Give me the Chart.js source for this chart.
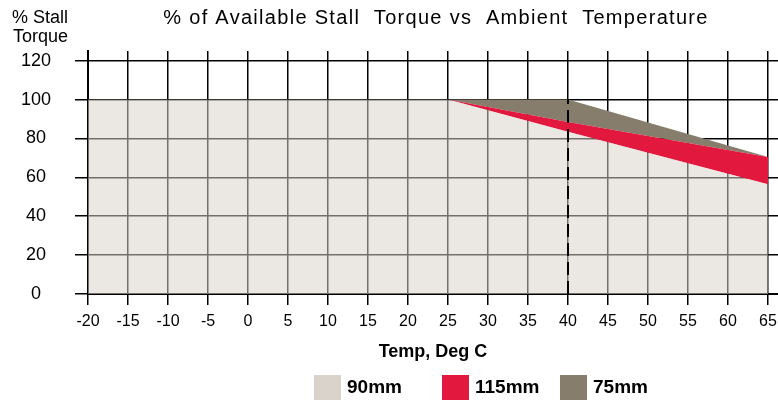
<!DOCTYPE html>
<html lang="en">

<head>
    <meta charset="UTF-8">
    <title>Stall Torque vs Ambient Temperature</title>
    <script src="https://cdn.jsdelivr.net/npm/chart.js@4/dist/chart.umd.min.js"></script>
    <style>
        body { margin: 0; background: #fff; }
    </style>
</head>

<body>
    <canvas id="myChart" width="778" height="400"></canvas>
    <script>
        // data
        const temps = [-20, 25, 40, 65];
        const torque90 = [100, 100, 83.5, 56.5];
        const torque115 = [100, 100, 88.5, 70.5];
        const torque75 = [100, 100, 100, 70.5];
        const markerTemps = [40, 40];
        const markerTorque = [0, 100];

        const xTicks = [-20, -15, -10, -5, 0, 5, 10, 15, 20, 25, 30, 35, 40, 45, 50, 55, 60, 65];
        const yTicks = [0, 20, 40, 60, 80, 100, 120];

        const seriesNames = ['90mm', '115mm', '75mm'];
        const seriesColors = ['#d9d3cc', '#e3183f', '#867d6c'];

        const NARROW = "'Liberation Sans Narrow', 'Liberation Sans', Arial, sans-serif";
        const SANS = "'Liberation Sans', Arial, sans-serif";

        const pts = (xs, ys) => xs.map((x, i) => ({ x: x, y: ys[i] }));

        // title, y axis caption and legend
        const decor = {
            id: 'decor',
            afterDraw(chart) {
                const ctx = chart.ctx;
                ctx.save();
                ctx.fillStyle = '#000';
                ctx.textBaseline = 'middle';

                ctx.font = '20px ' + SANS;
                ctx.letterSpacing = '1.3px';
                ctx.textAlign = 'center';
                ctx.fillText('% of Available Stall  Torque vs  Ambient  Temperature', 436, 18);
                ctx.letterSpacing = '0px';

                ctx.font = '18px ' + NARROW;
                ctx.textAlign = 'left';
                ctx.fillText('% Stall', 12, 18);
                ctx.fillText('Torque', 13, 37);

                const legendX = [314, 442, 560];
                ctx.font = 'bold 19px ' + SANS;
                seriesNames.forEach((name, i) => {
                    ctx.fillStyle = seriesColors[i];
                    ctx.fillRect(legendX[i], 375, 27, 25);
                    ctx.fillStyle = '#000';
                    ctx.fillText(name, legendX[i] + 33, 388);
                });
                ctx.restore();
            }
        };

        const ctx = document.getElementById('myChart').getContext('2d');
        const myChart = new Chart(ctx, {
            type: 'line',
            data: {
                datasets: [{
                    label: seriesNames[0],
                    data: pts(temps, torque90),
                    backgroundColor: 'rgba(217, 211, 204, 0.53)',
                    borderWidth: 0,
                    pointRadius: 0,
                    fill: 'origin'
                }, {
                    label: seriesNames[1],
                    data: pts(temps, torque115),
                    backgroundColor: seriesColors[1],
                    borderWidth: 0,
                    pointRadius: 0,
                    fill: '-1'
                }, {
                    label: seriesNames[2],
                    data: pts(temps, torque75),
                    backgroundColor: seriesColors[2],
                    borderWidth: 0,
                    pointRadius: 0,
                    fill: '-1'
                }, {
                    label: 'marker',
                    data: pts(markerTemps, markerTorque),
                    borderColor: '#000',
                    borderWidth: 2,
                    borderDash: [13, 6],
                    pointRadius: 0,
                    fill: false,
                    order: -1
                }]
            },
            plugins: [decor],
            options: {
                responsive: false,
                animation: false,
                devicePixelRatio: 1,
                layout: { padding: { top: 51, left: 0, right: 0, bottom: 0 } },
                plugins: {
                    legend: { display: false },
                    title: { display: false },
                    tooltip: { enabled: false }
                },
                scales: {
                    x: {
                        type: 'linear',
                        min: -20,
                        max: 66.25,
                        afterBuildTicks: s => { s.ticks = xTicks.map(v => ({ value: v })); },
                        afterFit: s => { s.height = 106; s.paddingRight = 0; },
                        grid: { color: '#000', lineWidth: 1.5, tickLength: 11 },
                        border: { color: '#000', width: 2 },
                        ticks: {
                            color: '#000',
                            font: { family: SANS, size: 16 },
                            padding: 7,
                            maxRotation: 0,
                            autoSkip: false
                        },
                        title: {
                            display: true,
                            text: 'Temp, Deg C',
                            color: '#000',
                            font: { family: SANS, size: 18, weight: 'bold' },
                            padding: { top: 0, bottom: 37 }
                        }
                    },
                    y: {
                        min: 0,
                        max: 125,
                        afterBuildTicks: s => { s.ticks = yTicks.map(v => ({ value: v })); },
                        afterFit: s => { s.width = 88; },
                        grid: { color: '#000', lineWidth: 1.5, tickLength: 13 },
                        border: { color: '#000', width: 2 },
                        ticks: {
                            color: '#000',
                            font: { family: NARROW, size: 18 },
                            crossAlign: 'center',
                            padding: 24
                        }
                    }
                }
            }
        });
    </script>
</body>

</html>
